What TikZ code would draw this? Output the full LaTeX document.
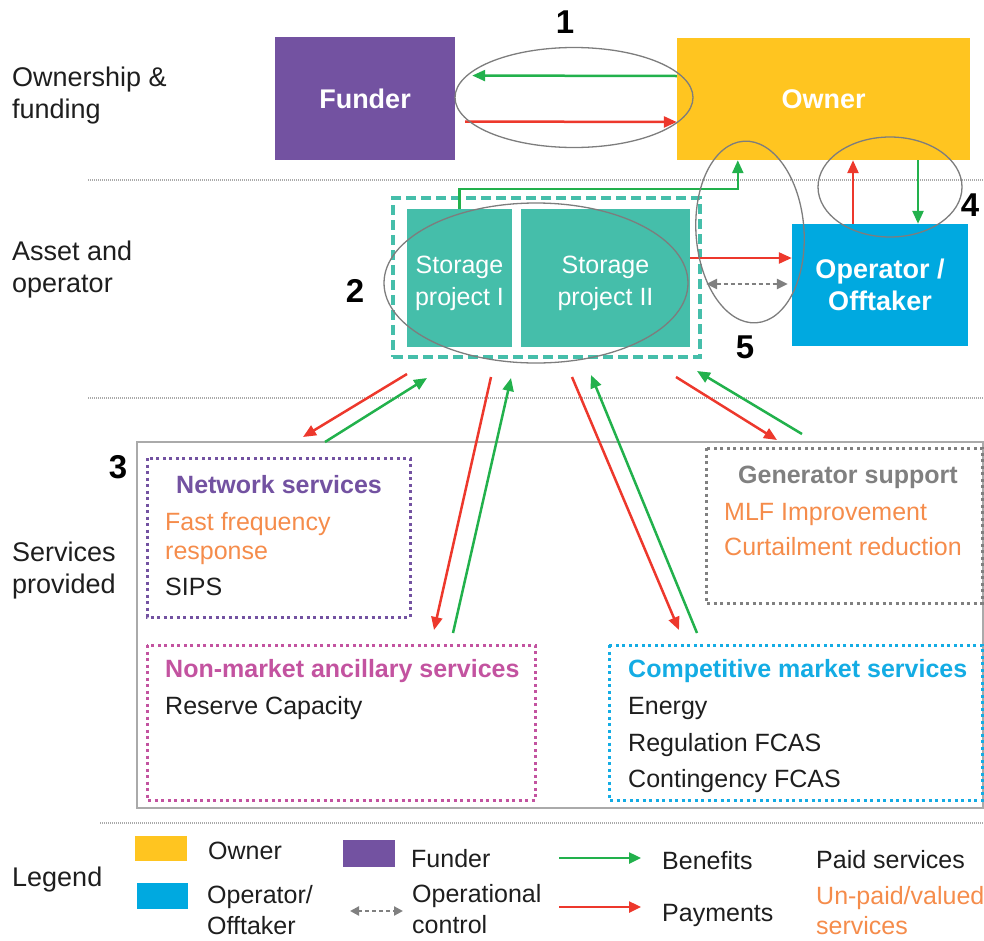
\documentclass[tikz,border=0pt]{standalone}
\usepackage{fontspec}
\setmainfont{Liberation Sans}
\usetikzlibrary{arrows.meta,calc}
\definecolor{funderc}{RGB}{115,82,161}
\definecolor{ownerc}{RGB}{255,197,32}
\definecolor{storec}{RGB}{69,190,170}
\definecolor{operc}{RGB}{0,169,224}
\definecolor{benefit}{RGB}{34,177,76}
\definecolor{payment}{RGB}{237,56,44}
\definecolor{unpaid}{RGB}{245,140,75}
\definecolor{ink}{RGB}{30,30,30}
\definecolor{ringc}{RGB}{125,125,125}
\definecolor{netc}{RGB}{115,82,161}
\definecolor{nonmkt}{RGB}{195,83,160}
\definecolor{compet}{RGB}{20,172,228}
\definecolor{gensup}{RGB}{128,128,128}
\definecolor{sepc}{RGB}{170,170,170}

\begin{document}
\begin{tikzpicture}[x=1pt,y=-1pt,
  side/.style={font=\fontsize{27}{32}\selectfont, text=ink, align=left, anchor=west, inner sep=0},
  txt/.style={font=\fontsize{25}{30}\selectfont, text=ink, anchor=base west, inner sep=0},
  ttl/.style={font=\fontsize{25}{30}\selectfont\bfseries, anchor=base west, inner sep=0},
  block/.style={inner sep=0, text=white, align=center},
  inner/.style={text=white, align=center, inner sep=0, font=\fontsize{25}{32}\selectfont},
  bigbold/.style={font=\fontsize{27}{32}\selectfont\bfseries},
  num/.style={font=\fontsize{33}{33}\selectfont\bfseries, text=black, inner sep=0},
  ring/.style={draw=ringc, line width=1.3pt},
  sep/.style={draw=sepc, line width=1.6pt, dash pattern=on 1pt off 1pt},
  dotbox/.style={draw=#1, line width=3pt, dash pattern=on 3pt off 3.5pt},
  ben/.style={draw=benefit, line width=2.5pt, -{Triangle[length=13pt,width=11pt]}},
  pay/.style={draw=payment, line width=2.5pt, -{Triangle[length=13pt,width=11pt]}},
  ctl/.style={draw=gensup, line width=2.5pt, dash pattern=on 4pt off 3pt,
    {Triangle[length=11pt,width=10pt]}-{Triangle[length=11pt,width=10pt]}}
]
\useasboundingbox (0,0) rectangle (984,940);

% section separators
\draw[sep] (88,180) -- (984,180);
\draw[sep] (88,398) -- (984,398);
\draw[sep] (100,823) -- (984,823);

% section labels
\node[side] (lOwn) at (12,96) {Ownership \&\\funding};
\node[side] (lAsset) at (12,270) {Asset and\\operator};
\node[side] (lServ) at (12,571) {Services\\provided};
\node[side] (lLeg) at (12,880) {Legend};

% ownership level
\node[block, fill=funderc, minimum width=180pt, minimum height=123pt, bigbold] (funder) at (365,98.5) {Funder};
\node[block, fill=ownerc, minimum width=293pt, minimum height=122pt, bigbold] (owner) at (823.5,99) {Owner};

% asset level
\node[draw=storec, line width=4.5pt, dash pattern=on 10pt off 5pt, minimum width=307pt, minimum height=159pt, inner sep=0] (ds) at (546.5,277.5) {};
\node[fill=storec, minimum width=105pt, minimum height=138pt, inner sep=0] (s1) at (459.5,278) {};
\node[fill=storec, minimum width=169pt, minimum height=138pt, inner sep=0] (s2) at (605.5,278) {};
\node[inner] (s1t) at (459.5,283) {Storage\\project I};
\node[inner] (s2t) at (605.5,283) {Storage\\project II};
\node[block, fill=operc, minimum width=176pt, minimum height=122pt, bigbold] (op) at (880,285) {Operator /\\Offtaker};

% flows between funder and owner
\draw[ben, shorten >=17pt] ([yshift=23pt]owner.west) -- ([yshift=23pt]funder.east);
\draw[pay, shorten <=10pt] ([yshift=-23pt]funder.east) -- ([yshift=-23pt]owner.west);

% storage to owner
\draw[ben] (s1.north) -- ++(0,-20) -| ($(owner.south west)+(61,0)$);

% storage to operator
\path ([yshift=20pt]s2.east) coordinate (pa);
\draw[pay] (pa) -- (pa -| op.west);
\path ([yshift=-6pt]s2.east) coordinate (ca);
\draw[ctl, shorten <=16pt, shorten >=4pt] (ca) -- (ca -| op.west);

% owner and operator
\path ([xshift=-27pt]op.north) coordinate (pb);
\draw[pay] (pb) -- (pb |- owner.south);
\path ([xshift=38pt]op.north) coordinate (pc);
\draw[ben] (pc |- owner.south) -- (pc);

% grouping rings
\draw[ring] (574,97.5) ellipse [x radius=119, y radius=50];
\draw[ring] (536,283) ellipse [x radius=152, y radius=80];
\draw[ring, rotate around={4:(750,232)}] (750,232) ellipse [x radius=54, y radius=91];
\draw[ring] (890,187) ellipse [x radius=72, y radius=50];

% numbers
\node[num] (n1) at (565,22) {1};
\node[num] (n2) at (355,291) {2};
\node[num] (n3) at (118,467) {3};
\node[num] (n4) at (970,205) {4};
\node[num] (n5) at (745,347) {5};

% services area
\draw[draw=sepc, line width=2pt] (137,442) rectangle (983,808);

\draw[dotbox=netc] (147,458) rectangle (410,617);
\node[ttl, text=netc] (tNet) at (176,493) {Network services};
\node[txt, text=unpaid] (tFfr) at (165,530) {Fast frequency};
\node[txt, text=unpaid] (tResp) at (165,559) {response};
\node[txt] (tSips) at (165,595) {SIPS};

\draw[dotbox=gensup] (706,448) rectangle (982,603);
\node[ttl, text=gensup] (tGen) at (738,483) {Generator support};
\node[txt, text=unpaid] (tMlf) at (724,520) {MLF Improvement};
\node[txt, text=unpaid] (tCurt) at (724,555) {Curtailment reduction};

\draw[dotbox=nonmkt] (147,645) rectangle (535,800);
\node[ttl, text=nonmkt] (tNon) at (165,677) {Non-market ancillary services};
\node[txt] (tRes) at (165,714) {Reserve Capacity};

\draw[dotbox=compet] (609,645) rectangle (982,800);
\node[ttl, text=compet] (tComp) at (628,677) {Competitive market services};
\node[txt] (tEn) at (628,714) {Energy};
\node[txt] (tReg) at (628,751) {Regulation FCAS};
\node[txt] (tCon) at (628,787) {Contingency FCAS};

% flows between storage and services
\coordinate (a1s) at (407,374); \coordinate (a1e) at (303,437);
\coordinate (b1s) at (325,442); \coordinate (b1e) at (427,378);
\coordinate (a2s) at (491,377); \coordinate (a2e) at (434,630);
\coordinate (b2s) at (453,633); \coordinate (b2e) at (511,378);
\coordinate (a3s) at (572,377); \coordinate (a3e) at (679,630);
\coordinate (b3s) at (697,633); \coordinate (b3e) at (591,375);
\coordinate (a4s) at (676,377); \coordinate (a4e) at (777,440);
\coordinate (b4s) at (802,434); \coordinate (b4e) at (697,371);
\draw[pay] (a1s) -- (a1e);
\draw[ben] (b1s) -- (b1e);
\draw[pay] (a2s) -- (a2e);
\draw[ben] (b2s) -- (b2e);
\draw[pay] (a3s) -- (a3e);
\draw[ben] (b3s) -- (b3e);
\draw[pay] (a4s) -- (a4e);
\draw[ben] (b4s) -- (b4e);

% legend
\node[fill=ownerc, minimum width=52pt, minimum height=25pt, inner sep=0] (kOwner) at (161,848.5) {};
\node[fill=operc, minimum width=51pt, minimum height=26pt, inner sep=0] (kOper) at (162.5,896) {};
\node[fill=funderc, minimum width=52pt, minimum height=27pt, inner sep=0] (kFund) at (369,853.5) {};
\node[txt] (kOwnerT) at (208,859) {Owner};
\node[side, font=\fontsize{25}{31}\selectfont] (kOperT) at (207,910) {Operator/\\Offtaker};
\node[txt] (kFundT) at (411,867) {Funder};
\coordinate (kc1) at (350,911); \coordinate (kc2) at (403,911);
\draw[ctl, {Triangle[length=9pt,width=9pt]}-{Triangle[length=9pt,width=9pt]}] (kc1) -- (kc2);
\node[side, font=\fontsize{25}{31}\selectfont] (kCtlT) at (412,909) {Operational\\control};
\coordinate (kb1) at (559,858); \coordinate (kb2) at (641,858);
\draw[ben, -{Triangle[length=12pt,width=11pt]}] (kb1) -- (kb2);
\node[txt] (kBenT) at (662,869) {Benefits};
\coordinate (kp1) at (559,907); \coordinate (kp2) at (641,907);
\draw[pay, -{Triangle[length=12pt,width=11pt]}] (kp1) -- (kp2);
\node[txt] (kPayT) at (662,921) {Payments};
\node[txt] (kPaid) at (816,868) {Paid services};
\node[side, font=\fontsize{25}{30}\selectfont, text=unpaid] (kUnpaid) at (816,911) {Un-paid/valued\\services};
\end{tikzpicture}
\end{document}
